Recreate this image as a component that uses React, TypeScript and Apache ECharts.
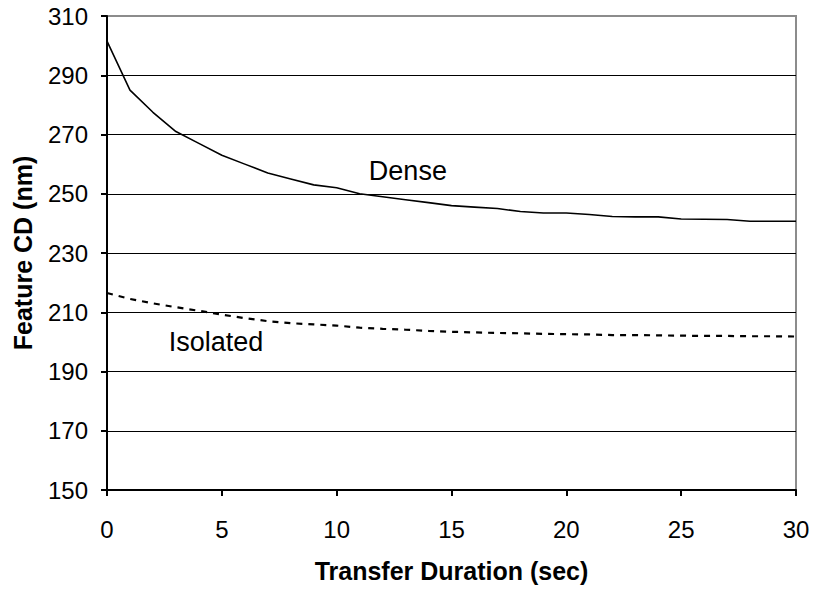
import React, { useEffect, useRef } from "react";
import * as echarts from "echarts";

const xValues = [0, 1, 2, 3, 4, 5, 6, 7, 8, 9, 10, 11, 12, 13, 14, 15, 16, 17, 18, 19, 20, 21, 22, 23, 24, 25, 26, 27, 28, 29, 30];
const denseValues = [301.5, 285, 277.5, 271, 267, 263, 260, 257, 255, 253, 252, 250, 249, 248, 247, 246, 245.5, 245, 244, 243.5, 243.5, 243, 242.3, 242.2, 242.2, 241.5, 241.4, 241.3, 240.7, 240.7, 240.7];
const isolatedValues = [216.5, 214.5, 213, 211.7, 210.5, 209.2, 208, 207, 206.3, 205.9, 205.5, 204.8, 204.4, 204.1, 203.7, 203.4, 203.2, 203, 202.9, 202.7, 202.6, 202.5, 202.3, 202.3, 202.2, 202.1, 202, 202, 201.9, 201.9, 201.8];
const denseLabelAt = [13.1, 257.8];
const isolatedLabelAt = [4.75, 199.8];

const FONT = "'Liberation Sans', Arial, sans-serif";

export default function App() {
  const ref = useRef<HTMLDivElement>(null);
  useEffect(() => {
    if (!ref.current) return;
    const chart = echarts.init(ref.current, null, { renderer: "svg" });
    chart.setOption({
      animation: false,
      backgroundColor: "#ffffff",
      textStyle: { fontFamily: FONT },
      grid: {
        left: 107,
        right: 19,
        top: 16,
        bottom: 99,
        show: true,
        borderColor: "#8c8c8c",
        borderWidth: 2,
        backgroundColor: "transparent",
      },
      xAxis: {
        type: "value",
        min: 0,
        max: 30,
        interval: 5,
        name: "Transfer Duration (sec)",
        nameLocation: "middle",
        nameGap: 68,
        nameTextStyle: { fontFamily: FONT, fontSize: 25, fontWeight: "bold", color: "#000" },
        axisLine: { show: true, onZero: false, lineStyle: { color: "#000", width: 2 } },
        axisTick: { show: true, length: 6, lineStyle: { color: "#000", width: 2 } },
        axisLabel: { fontFamily: FONT, fontSize: 24, color: "#000", margin: 27 },
        splitLine: { show: false },
      },
      yAxis: {
        type: "value",
        min: 150,
        max: 310,
        interval: 20,
        name: "Feature CD (nm)",
        nameLocation: "middle",
        nameGap: 72,
        nameTextStyle: { fontFamily: FONT, fontSize: 25, fontWeight: "bold", color: "#000" },
        axisLine: { show: true, onZero: false, lineStyle: { color: "#000", width: 2 } },
        axisTick: { show: true, length: 6, lineStyle: { color: "#000", width: 2 } },
        axisLabel: { fontFamily: FONT, fontSize: 24, color: "#000", margin: 19 },
        splitLine: { show: true, showMinLine: false, showMaxLine: false, lineStyle: { color: "#000", width: 1 } },
      },
      series: [
        {
          name: "Dense",
          type: "line",
          data: xValues.map((x, i) => [x, denseValues[i]]),
          showSymbol: false,
          symbol: "none",
          lineStyle: { color: "#000", width: 1.6, type: "solid" },
          markPoint: {
            symbol: "circle",
            symbolSize: 0,
            data: [{ coord: denseLabelAt, value: "Dense" }],
            label: { show: true, position: "inside", formatter: "Dense", fontFamily: FONT, fontSize: 27, color: "#000" },
          },
        },
        {
          name: "Isolated",
          type: "line",
          data: xValues.map((x, i) => [x, isolatedValues[i]]),
          showSymbol: false,
          symbol: "none",
          lineStyle: { color: "#000", width: 2.2, type: [6, 6] },
          markPoint: {
            symbol: "circle",
            symbolSize: 0,
            data: [{ coord: isolatedLabelAt, value: "Isolated" }],
            label: { show: true, position: "inside", formatter: "Isolated", fontFamily: FONT, fontSize: 27, color: "#000" },
          },
        },
      ],
    });
    return () => chart.dispose();
  }, []);
  return (
    <div
      ref={ref}
      style={{ position: "fixed", left: 0, top: 0, width: 815, height: 589, background: "#fff" }}
    />
  );
}
